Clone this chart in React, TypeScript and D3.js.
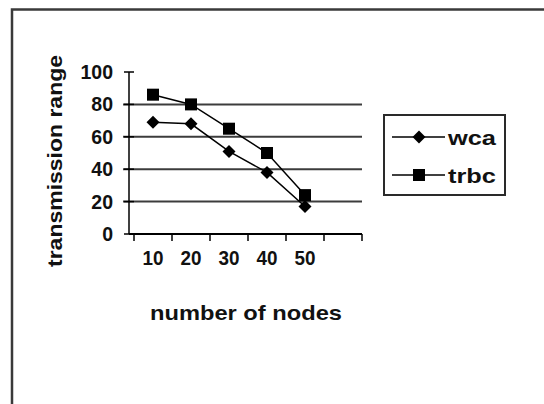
import * as d3 from 'd3';
import React from 'react';

const categories = ['10', '20', '30', '40', '50'];
const wca = [69, 68, 51, 38, 17];
const trbc = [86, 80, 65, 50, 24];
const yTicks = [0, 20, 40, 60, 80, 100];
const gridValues = [20, 40, 60, 80];

const font = '"Liberation Sans", Arial, sans-serif';

const App = () => {
  // excel-style category axis: one spare empty slot after the last category
  const slots = [...categories, ''];
  const xScale = d3.scaleBand().domain(slots.map((_, i) => String(i))).range([134, 362]).paddingInner(0);
  const yScale = d3.scaleLinear().domain([0, 100]).range([234, 72]);
  const axisX = 129;

  const cx = (i: number) => (xScale(String(i)) as number) + xScale.bandwidth() / 2;

  const line = d3
    .line<number>()
    .x((_, i) => cx(i))
    .y((d) => yScale(d));

  const diamond = (x: number, y: number, r = 6.5) =>
    `M${x},${y - r}L${x + r},${y}L${x},${y + r}L${x - r},${y}Z`;

  const boundaries = slots.map((_, i) => xScale(String(i)) as number).concat([362]);

  return (
    <svg width={544} height={404} style={{ position: 'absolute', left: 0, top: 0 }}>
      <rect width={544} height={404} fill="#fff" />
      <path d="M12,404V9.5H544" fill="none" stroke="#3a3a3a" strokeWidth={2.5} />

      {/* grid */}
      {gridValues.map((v) => (
        <line key={v} x1={123} x2={362} y1={yScale(v)} y2={yScale(v)} stroke="#3c3c3c" strokeWidth={2} />
      ))}

      {/* y axis */}
      <line x1={axisX} x2={axisX} y1={yScale(100)} y2={yScale(0)} stroke="#000" strokeWidth={1.5} />
      {yTicks.map((v) => (
        <line key={v} x1={124} x2={134} y1={yScale(v)} y2={yScale(v)} stroke="#000" strokeWidth={1.5} />
      ))}
      {yTicks.map((v) => (
        <text key={v} x={113} y={yScale(v)} dy="0.36em" textAnchor="end" fontFamily={font} fontWeight="bold" fontSize={19.5} fill="#111">
          {v}
        </text>
      ))}

      {/* x axis */}
      <line x1={axisX} x2={362} y1={yScale(0)} y2={yScale(0)} stroke="#000" strokeWidth={2} />
      {boundaries.map((b, i) => (
        <line key={i} x1={b} x2={b} y1={yScale(0)} y2={yScale(0) + 7} stroke="#000" strokeWidth={1.5} />
      ))}
      {categories.map((c, i) => (
        <text key={c} x={cx(i)} y={265} textAnchor="middle" fontFamily={font} fontWeight="bold" fontSize={20} textLength={21} lengthAdjust="spacingAndGlyphs" fill="#111">
          {c}
        </text>
      ))}

      {/* series */}
      <path d={line(wca) || ''} fill="none" stroke="#000" strokeWidth={1.5} />
      <path d={line(trbc) || ''} fill="none" stroke="#000" strokeWidth={1.5} />
      {wca.map((v, i) => (
        <path key={i} d={diamond(cx(i), yScale(v))} fill="#000" />
      ))}
      {trbc.map((v, i) => (
        <rect key={i} x={cx(i) - 6} y={yScale(v) - 6} width={12} height={12} fill="#000" />
      ))}

      {/* axis titles */}
      <text
        transform="translate(62,161) rotate(-90)"
        textAnchor="middle"
        fontFamily={font}
        fontWeight="bold"
        fontSize={21}
        textLength={212}
        lengthAdjust="spacingAndGlyphs"
        fill="#111"
      >
        transmission range
      </text>
      <text
        x={246}
        y={320}
        textAnchor="middle"
        fontFamily={font}
        fontWeight="bold"
        fontSize={21}
        textLength={192}
        lengthAdjust="spacingAndGlyphs"
        fill="#111"
      >
        number of nodes
      </text>

      {/* legend */}
      <rect x={384} y={115} width={121} height={80} fill="#fff" stroke="#2a2a2a" strokeWidth={2} />
      {[
        { name: 'wca', y: 137 },
        { name: 'trbc', y: 175 },
      ].map((s) => (
        <g key={s.name}>
          <line x1={392} x2={445} y1={s.y} y2={s.y} stroke="#000" strokeWidth={1.5} />
          {s.name === 'wca' ? (
            <path d={diamond(419, s.y)} fill="#000" />
          ) : (
            <rect x={413} y={s.y - 6} width={12} height={12} fill="#000" />
          )}
          <text x={448} y={s.y} dy="0.36em" fontFamily={font} fontWeight="bold" fontSize={21} textLength={48} lengthAdjust="spacingAndGlyphs" fill="#111">
            {s.name}
          </text>
        </g>
      ))}
    </svg>
  );
};

export default App;
